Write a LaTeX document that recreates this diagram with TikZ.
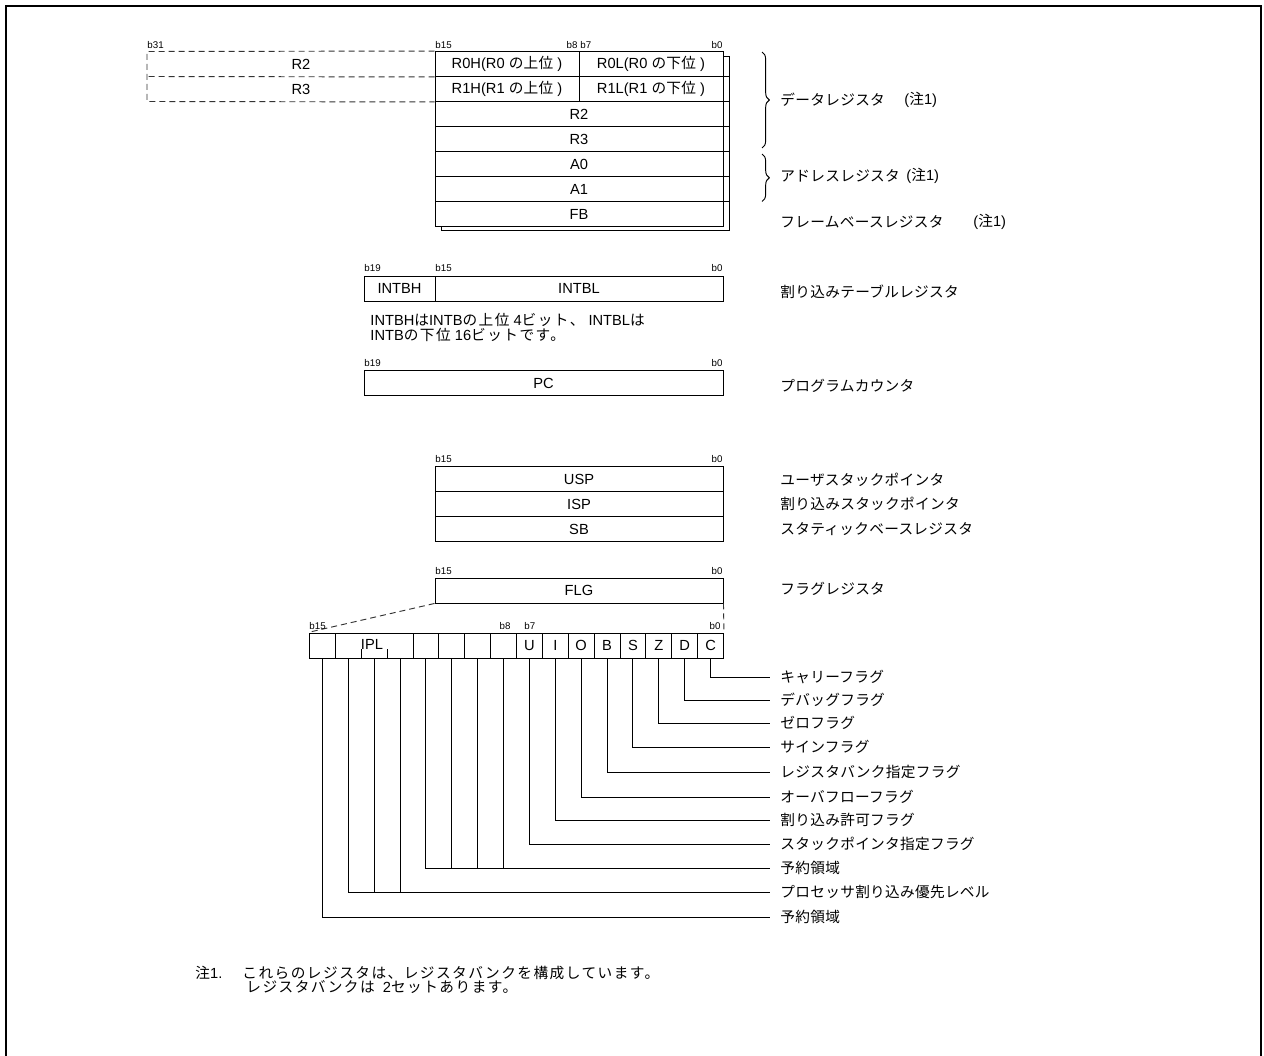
\documentclass[tikz,border=0pt]{standalone}
\usepackage{fontspec}
\setmainfont{Liberation Sans}
\newfontfamily\jp{Noto Sans CJK JP}[LetterSpace=2]
\newfontfamily\jpw{Noto Sans CJK JP}[LetterSpace=10]
\usetikzlibrary{decorations.pathreplacing,calc}
\newcommand\J[1]{{\jp #1}}
\newcommand\JW[1]{{\jpw #1}}
\begin{document}
\begin{tikzpicture}[x=0.75pt,y=-0.75pt,line width=0.7pt,
  txt/.style={font=\fontsize{11}{13}\selectfont,inner sep=0pt},
  notetxt/.style={font=\fontsize{11}{13}\selectfont,inner sep=0pt,anchor=west},
  jlab/.style={font=\fontsize{11}{13}\selectfont\jp,inner sep=0pt,anchor=west},
  bl/.style={font=\fontsize{7.3}{8}\selectfont,inner sep=0pt},
  reg/.style={draw,minimum height=18.75pt,inner sep=0pt,font=\fontsize{11}{13}\selectfont},
  bitcell/.style={reg,minimum width=19.406pt},
  dsh/.style={dash pattern=on 4.5pt off 3pt,black!80},
  frameline/.style={line width=1.9pt}]
\useasboundingbox (0,0) rectangle (1264,1056);
% frame
\draw[frameline] (6,1056) -- (6,6) -- (1261,6) -- (1261,1056);

% ---- data/address registers ----
% shadow (bank 1)
\draw (723,56) -- (729,56) -- (729,230.5) -- (441,230.5) -- (441,226.5);
\foreach \y in {76.5,101.5,126.5,151.5,176.5,201.5}
  \draw (723,\y) -- (729,\y);
\node[reg,fill=white,minimum width=108pt] (r0h) at (507,64) {R0H(R0 \J{の上位} )};
\node[reg,fill=white,minimum width=108pt] (r0l) at (651,64) {R0L(R0 \J{の下位} )};
\node[reg,fill=white,minimum width=108pt] (r1h) at (507,89) {R1H(R1 \J{の上位} )};
\node[reg,fill=white,minimum width=108pt] (r1l) at (651,89) {R1L(R1 \J{の下位} )};
\node[reg,fill=white,minimum width=216pt] (r2) at (579,114) {R2};
\node[reg,fill=white,minimum width=216pt] (r3) at (579,139) {R3};
\node[reg,fill=white,minimum width=216pt] (a0) at (579,164) {A0};
\node[reg,fill=white,minimum width=216pt] (a1) at (579,189) {A1};
\node[reg,fill=white,minimum width=216pt] (fb) at (579,214) {FB};
% dashed 32-bit extension
\draw[dsh] (r0h.north west) -- (147,51.5) -- (147,101.5) -- (r1h.south west);
\draw[dsh] (r0h.south west) -- (147,76.5);
\node[txt] (r2x) at (301,64) {R2};
\node[txt] (r3x) at (301,89) {R3};
\node[bl,anchor=base west] (t31) at (147,48.5) {b31};
\node[bl,anchor=base west] (t15a) at (435,48.5) {b15};
\node[bl,anchor=base east] (t8a) at (578,48.5) {b8};
\node[bl,anchor=base west] (t7a) at (580,48.5) {b7};
\node[bl,anchor=base east] (t0a) at (723,48.5) {b0};
% braces and labels
\draw[decorate,decoration={brace,amplitude=5.5pt}] (762,52) -- (762,148);
\draw[decorate,decoration={brace,amplitude=5.5pt}] (762,154) -- (762,201.5);
\node[jlab] (ldata) at (780,100) {データレジスタ};
\node[txt,anchor=west] (ndata) at (904,100) {(\J{注}1)};
\node[jlab] (laddr) at (780,176) {アドレスレジスタ};
\node[txt,anchor=west] (naddr) at (906,176) {(\J{注}1)};
\node[jlab] (lfb) at (780,222) {フレームベースレジスタ};
\node[txt,anchor=west] (nfb) at (973,222) {(\J{注}1)};

% ---- INTB ----
\node[reg,minimum width=53.25pt] (intbh) at (399.5,288.5) {INTBH};
\node[reg,minimum width=216pt] (intbl) at (579,288.5) {INTBL};
\node[bl,anchor=base west] (t19b) at (364,271.5) {b19};
\node[bl,anchor=base west] (t15b) at (435,271.5) {b15};
\node[bl,anchor=base east] (t0b) at (723,271.5) {b0};
\node[jlab] (lintb) at (780,292) {割り込みテーブルレジスタ};
\node[notetxt] (note1) at (370,320) {INTBH\JW{は}INTB\JW{の上位} 4\JW{ビット、} INTBL\JW{は}};
\node[notetxt] (note2) at (370,335) {INTB\JW{の下位} 16\JW{ビットです。}};

% ---- PC ----
\node[reg,minimum width=269.25pt] (pc) at (543.5,383) {PC};
\node[bl,anchor=base west] (t19c) at (364,366) {b19};
\node[bl,anchor=base east] (t0c) at (723,366) {b0};
\node[jlab] (lpc) at (780,386) {プログラムカウンタ};

% ---- USP / ISP / SB ----
\node[reg,minimum width=216pt] (usp) at (579,479) {USP};
\node[reg,minimum width=216pt] (isp) at (579,504) {ISP};
\node[reg,minimum width=216pt] (sb) at (579,529) {SB};
\node[bl,anchor=base west] (t15d) at (435,462) {b15};
\node[bl,anchor=base east] (t0d) at (723,462) {b0};
\node[jlab] (lusp) at (780,480) {ユーザスタックポインタ};
\node[jlab] (lisp) at (780,504) {割り込みスタックポインタ};
\node[jlab] (lsb) at (780,529) {スタティックベースレジスタ};

% ---- FLG ----
\node[reg,minimum width=216pt] (flg) at (579,590.5) {FLG};
\node[bl,anchor=base west] (t15e) at (435,574) {b15};
\node[bl,anchor=base east] (t0e) at (723,574) {b0};
\node[jlab] (lflg) at (780,589) {フラグレジスタ};

% flag bits (bit number n, cell index k = 15-n)
\node[bitcell] (b15) at (322.44,645.5) {};
\node[reg,minimum width=58.22pt] (ipl) at (374.19,645.5) {};
\node[txt] (ipltxt) at (372,644.5) {IPL};
\foreach \n/\t in {11/,10/,9/,8/,7/U,6/I,5/O,4/B,3/S,2/Z,1/D,0/C}
  \node[bitcell] (b\n) at ({309.5+25.875*(15-\n+0.5)},645.5) {\t};
\draw ($(ipl.south west)!1/3!(ipl.south east)$) -- ++(0,-9);
\draw ($(ipl.south west)!2/3!(ipl.south east)$) -- ++(0,-9);
\draw[dsh] (flg.south west) -- (310,632);
\draw[dsh] (flg.south east) -- (b0.north east);
\node[bl,anchor=base west] (t15f) at (309,629) {b15};
\node[bl,anchor=base east] (t8f) at (511,629) {b8};
\node[bl,anchor=base west] (t7f) at (524,629) {b7};
\node[bl,anchor=base east] (t0f) at (721,629) {b0};

% flag labels and connectors
\foreach \n/\t/\y in {0/キャリーフラグ/677,1/デバッグフラグ/700,2/ゼロフラグ/723,3/サインフラグ/747,4/レジスタバンク指定フラグ/772,5/オーバフローフラグ/797,6/割り込み許可フラグ/820,7/スタックポインタ指定フラグ/844}{
  \node[jlab] (l\n) at (780,\y) {\t};
  \draw (b\n.south) |- ([xshift=-7.5pt]l\n.west);
}
\node[jlab] (lres) at (780,868) {予約領域};
\draw (b11.south) |- ([xshift=-7.5pt]lres.west);
\foreach \n in {8,9,10} \draw (b\n.south) -- (b\n.south |- lres.west);
\node[jlab] (lipl) at (780,892) {プロセッサ割り込み優先レベル};
\coordinate (p14) at ($(ipl.south west)!1/6!(ipl.south east)$);
\coordinate (p13) at (ipl.south);
\coordinate (p12) at ($(ipl.south west)!5/6!(ipl.south east)$);
\draw (p14) |- ([xshift=-7.5pt]lipl.west);
\draw (p13) -- (p13 |- lipl.west);
\draw (p12) -- (p12 |- lipl.west);
\node[jlab] (lres2) at (780,917) {予約領域};
\draw (b15.south) |- ([xshift=-7.5pt]lres2.west);

% ---- note ----
\node[notetxt] (fn1) at (195,973) {\JW{注}1.};
\node[notetxt] (fn2) at (242,973) {\JW{これらのレジスタは、レジスタバンクを構成しています。}};
\node[notetxt] (fn3) at (246,987) {\JW{レジスタバンクは}\ \ 2\JW{セットあります。}};
\end{tikzpicture}
\end{document}
